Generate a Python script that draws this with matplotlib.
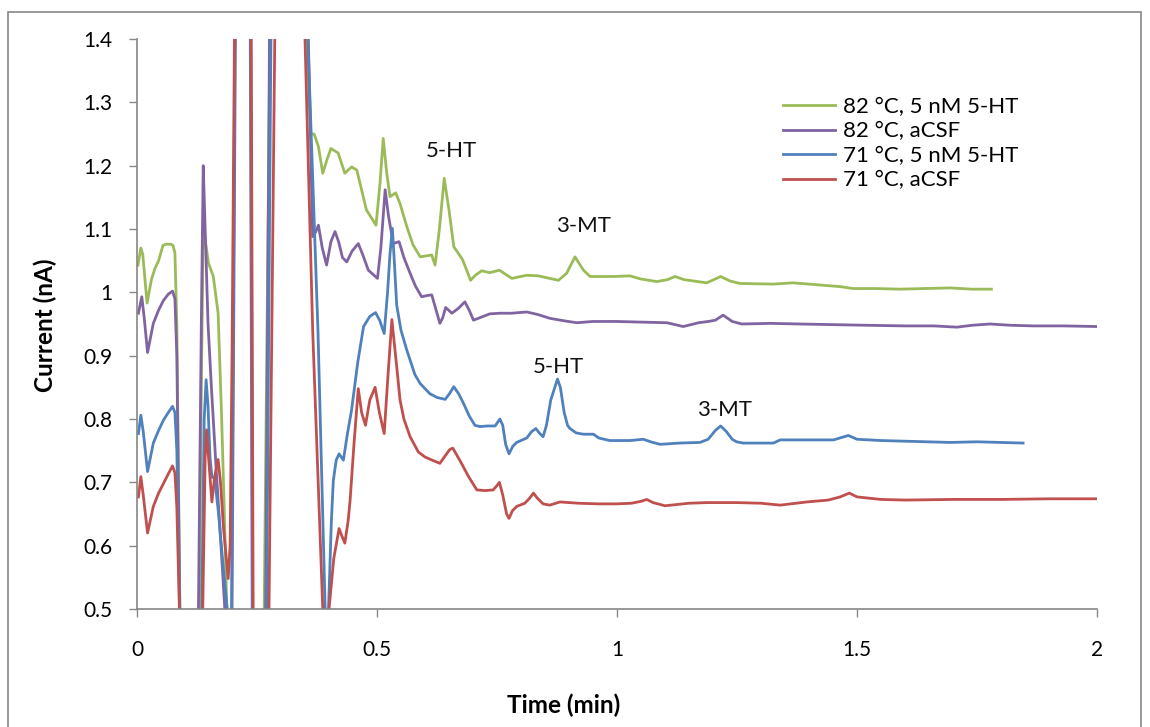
import matplotlib
matplotlib.use("Agg")
import matplotlib.pyplot as plt
from matplotlib.patches import Rectangle

plt.rcParams['font.family'] = ['Lato', 'DejaVu Sans']

# 82 C, 5 nM 5-HT (green)
t_g = [0.002, 0.008, 0.012, 0.021, 0.03, 0.0375, 0.045, 0.054, 0.06, 0.07, 0.075, 0.079, 0.083, 0.09,
       0.1, 0.125, 0.13, 0.134, 0.138, 0.149, 0.159, 0.169, 0.176, 0.182, 0.187, 0.19, 0.262, 0.265,
       0.277, 0.28, 0.35, 0.353, 0.362, 0.369, 0.378, 0.387, 0.396, 0.404, 0.419, 0.433, 0.447, 0.458,
       0.478, 0.498, 0.506, 0.513, 0.52, 0.527, 0.539, 0.548, 0.562, 0.575, 0.59, 0.614, 0.621, 0.63,
       0.64, 0.65, 0.66, 0.678, 0.695, 0.705, 0.718, 0.735, 0.755, 0.781, 0.812, 0.836, 0.878, 0.895,
       0.9125, 0.93, 0.944, 0.992, 1.027, 1.05, 1.083, 1.105, 1.121, 1.14, 1.187, 1.216, 1.235, 1.256,
       1.326, 1.367, 1.416, 1.465, 1.492, 1.54, 1.59, 1.64, 1.694, 1.74, 1.78]
v_g = [1.043, 1.07, 1.06, 0.983, 1.02, 1.038, 1.05, 1.074, 1.076, 1.076, 1.074, 1.062, 0.95, 0.45,
       0.3, 0.3, 0.5, 0.85, 1.104, 1.046, 1.025, 0.967, 0.81, 0.652, 0.5, 0.3, 0.3, 0.5,
       1.4, 1.6, 1.6, 1.4, 1.25, 1.25, 1.23, 1.188, 1.21, 1.227, 1.22, 1.188, 1.198, 1.193,
       1.13, 1.106, 1.17, 1.243, 1.19, 1.151, 1.157, 1.14, 1.104, 1.075, 1.056, 1.059, 1.043, 1.1,
       1.18, 1.13, 1.072, 1.052, 1.019, 1.027, 1.034, 1.031, 1.035, 1.022, 1.027, 1.026, 1.019, 1.03,
       1.056, 1.035, 1.025, 1.025, 1.026, 1.021, 1.017, 1.02, 1.025, 1.02, 1.015, 1.025, 1.018, 1.014,
       1.013, 1.015, 1.012, 1.009, 1.006, 1.006, 1.005, 1.006, 1.007, 1.005, 1.005]

# 82 C, aCSF (purple)
t_p = [0.003, 0.01, 0.015, 0.022, 0.034, 0.045, 0.055, 0.065, 0.074, 0.079, 0.083, 0.09, 0.1, 0.122,
       0.128, 0.134, 0.138, 0.142, 0.148, 0.155, 0.165, 0.175, 0.183, 0.186, 0.194, 0.198, 0.205, 0.208,
       0.232, 0.236, 0.24, 0.243, 0.265, 0.268, 0.276, 0.279, 0.352, 0.357, 0.366, 0.372, 0.378, 0.386,
       0.395, 0.404, 0.4125, 0.42, 0.428, 0.437, 0.448, 0.461, 0.47, 0.482, 0.501, 0.508, 0.517, 0.524,
       0.534, 0.546, 0.556, 0.569, 0.58, 0.593, 0.605, 0.614, 0.622, 0.631, 0.637, 0.643, 0.649, 0.656,
       0.67, 0.683, 0.692, 0.701, 0.718, 0.735, 0.756, 0.78, 0.812, 0.835, 0.86, 0.89, 0.916, 0.95,
       0.999, 1.05, 1.104, 1.138, 1.17, 1.19, 1.205, 1.221, 1.24, 1.26, 1.32, 1.381, 1.45, 1.52, 1.6,
       1.66, 1.708, 1.74, 1.777, 1.82, 1.867, 1.93, 2.0]
v_p = [0.967, 0.993, 0.96, 0.905, 0.951, 0.972, 0.987, 0.997, 1.002, 0.99, 0.9, 0.45, 0.3, 0.3,
       0.5, 0.95, 1.2, 1.1, 0.95, 0.85, 0.72, 0.6, 0.5, 0.3, 0.3, 0.5, 1.4, 1.6,
       1.6, 1.4, 0.5, 0.3, 0.3, 0.5, 1.4, 1.6, 1.6, 1.4, 1.088, 1.095, 1.106, 1.07,
       1.043, 1.08, 1.096, 1.08, 1.055, 1.048, 1.065, 1.077, 1.06, 1.035, 1.022, 1.07, 1.162, 1.12,
       1.077, 1.08, 1.055, 1.03, 1.01, 0.993, 0.995, 0.996, 0.975, 0.951, 0.96, 0.976, 0.972, 0.967,
       0.975, 0.985, 0.972, 0.956, 0.961, 0.966, 0.967, 0.967, 0.969, 0.965, 0.959, 0.955, 0.952, 0.954,
       0.954, 0.953, 0.952, 0.946, 0.952, 0.954, 0.956, 0.964, 0.954, 0.95, 0.951, 0.95, 0.949, 0.948, 0.947,
       0.947, 0.945, 0.948, 0.95, 0.948, 0.947, 0.947, 0.946]

# 71 C, 5 nM 5-HT (blue)
t_b = [0.003, 0.008, 0.013, 0.022, 0.034, 0.045, 0.055, 0.065, 0.074, 0.079, 0.083, 0.09, 0.1, 0.13,
       0.135, 0.14, 0.144, 0.148, 0.152, 0.156, 0.162, 0.17, 0.178, 0.188, 0.191, 0.193, 0.197, 0.204,
       0.207, 0.233, 0.237, 0.241, 0.244, 0.267, 0.27, 0.279, 0.282, 0.35, 0.356, 0.377, 0.392, 0.395,
       0.396, 0.399, 0.405, 0.409, 0.415, 0.421, 0.43, 0.438, 0.447, 0.46, 0.472, 0.485, 0.497, 0.506,
       0.515, 0.522, 0.527, 0.532, 0.536, 0.541, 0.55, 0.562, 0.579, 0.59, 0.61, 0.625, 0.642, 0.651,
       0.66, 0.67, 0.68, 0.692, 0.704, 0.715, 0.729, 0.746, 0.756, 0.762, 0.768, 0.775, 0.783, 0.791,
       0.812, 0.822, 0.831, 0.838, 0.846, 0.853, 0.862, 0.871, 0.876, 0.882, 0.89, 0.897, 0.902, 0.915,
       0.93, 0.951, 0.962, 0.985, 1.0, 1.027, 1.055, 1.07, 1.09, 1.13, 1.173, 1.19, 1.205, 1.216, 1.228,
       1.24, 1.249, 1.263, 1.3, 1.326, 1.34, 1.4, 1.451, 1.482, 1.5, 1.55, 1.6, 1.694, 1.75, 1.8, 1.846]
v_b = [0.777, 0.806, 0.78, 0.717, 0.762, 0.782, 0.798, 0.81, 0.82, 0.81, 0.75, 0.45, 0.3, 0.3,
       0.5, 0.8, 0.862, 0.82, 0.74, 0.709, 0.705, 0.65, 0.58, 0.5, 0.3, 0.3, 0.5, 1.4,
       1.6, 1.6, 1.4, 0.5, 0.3, 0.3, 0.5, 1.4, 1.6, 1.6, 1.4, 0.94, 0.5, 0.3,
       0.3, 0.5, 0.64, 0.703, 0.735, 0.745, 0.735, 0.775, 0.814, 0.89, 0.946, 0.962, 0.968, 0.955,
       0.935, 1.0, 1.06, 1.101, 1.05, 0.98, 0.94, 0.909, 0.87, 0.856, 0.84, 0.834, 0.831, 0.84,
       0.851, 0.84, 0.825, 0.805, 0.79, 0.788, 0.789, 0.789, 0.8, 0.79, 0.76, 0.745, 0.757, 0.763,
       0.77, 0.78, 0.785, 0.778, 0.772, 0.79, 0.83, 0.851, 0.863, 0.85, 0.81, 0.79, 0.785, 0.778,
       0.776, 0.776, 0.77, 0.766, 0.766, 0.766, 0.768, 0.764, 0.76, 0.762, 0.763, 0.768, 0.782, 0.789, 0.78,
       0.768, 0.764, 0.762, 0.762, 0.762, 0.767, 0.767, 0.767, 0.774, 0.768, 0.766, 0.765, 0.763, 0.764, 0.763, 0.762]

# 71 C, aCSF (red)
t_r = [0.003, 0.008, 0.013, 0.022, 0.034, 0.045, 0.055, 0.065, 0.074, 0.079, 0.083, 0.09, 0.1, 0.133,
       0.137, 0.142, 0.145, 0.149, 0.156, 0.162, 0.169, 0.174, 0.18, 0.19, 0.194, 0.198, 0.203, 0.206,
       0.234, 0.238, 0.242, 0.245, 0.272, 0.275, 0.287, 0.29, 0.345, 0.35, 0.366, 0.387, 0.39, 0.397,
       0.4, 0.41, 0.421, 0.427, 0.433, 0.44, 0.444, 0.452, 0.461, 0.468, 0.476, 0.485, 0.496, 0.505,
       0.515, 0.523, 0.531, 0.536, 0.541, 0.548, 0.556, 0.569, 0.586, 0.6, 0.615, 0.631, 0.645, 0.652,
       0.658, 0.667, 0.676, 0.69, 0.708, 0.725, 0.742, 0.75, 0.755, 0.762, 0.77, 0.775, 0.782, 0.791,
       0.808, 0.818, 0.826, 0.834, 0.846, 0.86, 0.881, 0.92, 0.96, 0.999, 1.03, 1.05, 1.062, 1.075,
       1.1, 1.15, 1.187, 1.25, 1.3, 1.34, 1.395, 1.44, 1.465, 1.484, 1.5, 1.55, 1.6, 1.7, 1.8, 1.9, 2.0]
v_r = [0.677, 0.709, 0.68, 0.62, 0.662, 0.683, 0.698, 0.713, 0.726, 0.715, 0.66, 0.45, 0.3, 0.3,
       0.5, 0.74, 0.783, 0.74, 0.669, 0.71, 0.736, 0.7, 0.63, 0.548, 0.6, 0.9, 1.4, 1.6,
       1.6, 1.4, 0.5, 0.3, 0.3, 0.5, 1.4, 1.6, 1.6, 1.4, 0.94, 0.5, 0.3, 0.3,
       0.5, 0.58, 0.627, 0.615, 0.604, 0.64, 0.672, 0.76, 0.848, 0.81, 0.79, 0.83, 0.85, 0.81,
       0.777, 0.87, 0.957, 0.92, 0.883, 0.83, 0.8, 0.772, 0.748, 0.74, 0.735, 0.73, 0.745, 0.752,
       0.754, 0.742, 0.73, 0.71, 0.688, 0.687, 0.688, 0.695, 0.7, 0.68, 0.65, 0.643, 0.655, 0.662,
       0.667, 0.675, 0.683, 0.675, 0.666, 0.664, 0.669, 0.667, 0.666, 0.666, 0.667, 0.67, 0.673, 0.668,
       0.663, 0.667, 0.668, 0.668, 0.667, 0.664, 0.669, 0.672, 0.677, 0.683, 0.677, 0.673, 0.672, 0.673, 0.673, 0.674, 0.674]

series_labels = ['82 °C, 5 nM 5-HT', '82 °C, aCSF', '71 °C, 5 nM 5-HT', '71 °C, aCSF']
series_colors = ['#9BBB59', '#8064A2', '#4F81BD', '#C0504D']

peak_labels = ['5-HT', '3-MT', '5-HT', '3-MT']
peak_t = [0.655, 0.930, 0.879, 1.225]
peak_v = [1.223, 1.105, 0.882, 0.814]

xticks = [0, 0.5, 1, 1.5, 2]
xtick_labels = ['0', '0.5', '1', '1.5', '2']
yticks = [0.5, 0.6, 0.7, 0.8, 0.9, 1.0, 1.1, 1.2, 1.3, 1.4]
ytick_labels = ['0.5', '0.6', '0.7', '0.8', '0.9', '1', '1.1', '1.2', '1.3', '1.4']

fig = plt.figure(figsize=(11.5, 7.27), dpi=100)
ax = fig.add_axes([137/1150, 1 - 609/727, 960/1150, 570/727])

grey = '#868686'
for t, v, lab, col in zip([t_g, t_p, t_b, t_r], [v_g, v_p, v_b, v_r], series_labels, series_colors):
    ax.plot(t, v, color=col, lw=2.0, label=lab, solid_joinstyle='round')

for lab, t, v in zip(peak_labels, peak_t, peak_v):
    ax.text(t, v, lab, fontsize=16, ha='center', va='center', color='#111111')

ax.set_xlim(0, 2)
ax.set_ylim(0.5, 1.4)
ax.set_xticks(xticks)
ax.set_xticklabels(xtick_labels)
ax.set_yticks(yticks)
ax.set_yticklabels(ytick_labels)
ax.tick_params(axis='both', direction='out', length=6, width=1, color=grey, labelsize=15)
ax.tick_params(axis='y', pad=12)
ax.tick_params(axis='x', pad=16)
for side in ['top', 'right']:
    ax.spines[side].set_visible(False)
for side in ['left', 'bottom']:
    ax.spines[side].set_color(grey)
    ax.spines[side].set_linewidth(1.2)

fig.text(564/1150, 1 - 705/727, 'Time (min)', fontsize=17.5, fontweight='bold', ha='center', va='center')
fig.text(45/1150, 1 - 325/727, 'Current (nA)', fontsize=17.5, fontweight='bold', ha='center', va='center',
         rotation=90)

ax.legend(loc='upper left', bbox_to_anchor=(783/1150, 1 - 97/727), bbox_transform=fig.transFigure,
          frameon=False, fontsize=16, handlelength=2.35, handletextpad=0.35, labelspacing=0.2,
          borderpad=0, borderaxespad=0)

fig.patches.append(Rectangle((8/1150, -0.1), (1141 - 8)/1150, 1.1 - 12/727, transform=fig.transFigure,
                             fill=False, edgecolor=grey, lw=1.2))

fig.savefig('out.png', dpi=100)
